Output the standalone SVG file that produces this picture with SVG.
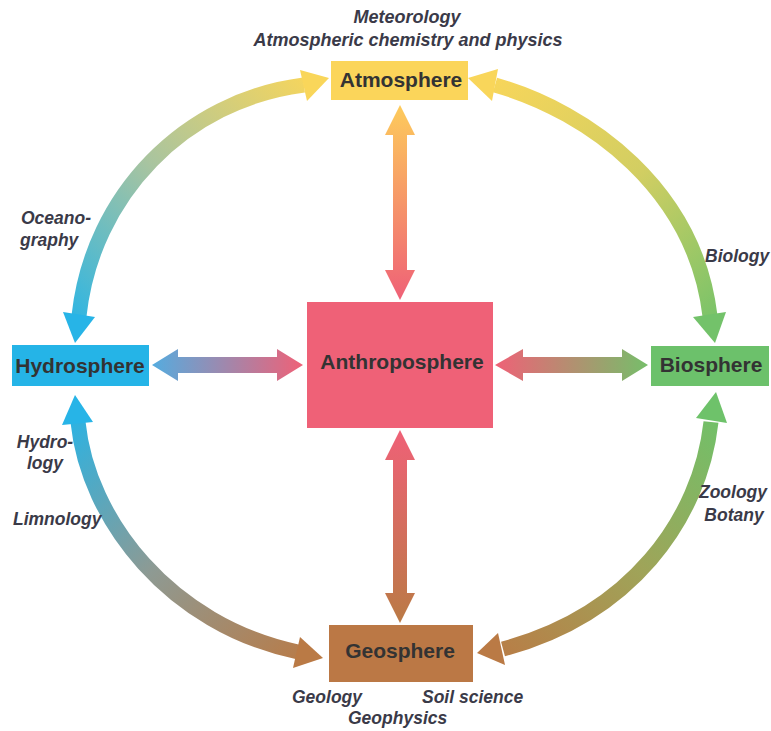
<svg xmlns="http://www.w3.org/2000/svg" width="771" height="731" viewBox="0 0 771 731">
<style>
.node{font-family:"Liberation Sans",Arial,sans-serif;font-weight:bold;font-size:21px;fill:#333333;text-anchor:middle}
.lbl{font-family:"Liberation Sans",Arial,sans-serif;font-weight:bold;font-style:italic;font-size:17.5px;fill:#3a3a48}
.arc{fill:none;stroke-width:15}
</style>
<defs>
<linearGradient id="gTL" gradientUnits="userSpaceOnUse" x1="76" y1="340" x2="320" y2="80"><stop offset="0" stop-color="#26B4E7"/><stop offset="0.5" stop-color="#A8C4A0"/><stop offset="1" stop-color="#F9D65A"/></linearGradient>
<linearGradient id="gTR" gradientUnits="userSpaceOnUse" x1="480" y1="80" x2="715" y2="340"><stop offset="0" stop-color="#F9D65A"/><stop offset="0.5" stop-color="#D2CE62"/><stop offset="1" stop-color="#71C26A"/></linearGradient>
<linearGradient id="gBL" gradientUnits="userSpaceOnUse" x1="76" y1="400" x2="320" y2="655"><stop offset="0" stop-color="#26B4E7"/><stop offset="0.5" stop-color="#8E9A93"/><stop offset="1" stop-color="#BA7A45"/></linearGradient>
<linearGradient id="gBR" gradientUnits="userSpaceOnUse" x1="715" y1="400" x2="480" y2="655"><stop offset="0" stop-color="#6EC26A"/><stop offset="0.5" stop-color="#9FA459"/><stop offset="1" stop-color="#BA7A45"/></linearGradient>
<linearGradient id="gVT" gradientUnits="userSpaceOnUse" x1="0" y1="105" x2="0" y2="300"><stop offset="0" stop-color="#FDCB5B"/><stop offset="1" stop-color="#EF6177"/></linearGradient>
<linearGradient id="gVB" gradientUnits="userSpaceOnUse" x1="0" y1="430" x2="0" y2="623"><stop offset="0" stop-color="#EF6177"/><stop offset="1" stop-color="#BA7A45"/></linearGradient>
<linearGradient id="gHL" gradientUnits="userSpaceOnUse" x1="152" y1="0" x2="303" y2="0"><stop offset="0" stop-color="#55ACDF"/><stop offset="1" stop-color="#EF6177"/></linearGradient>
<linearGradient id="gHR" gradientUnits="userSpaceOnUse" x1="495" y1="0" x2="648" y2="0"><stop offset="0" stop-color="#EF6177"/><stop offset="1" stop-color="#76BE6A"/></linearGradient>
</defs>
<g id="connectors">
<path class="arc" stroke="url(#gTL)" d="M79 316 C92 195 185 100 304 85"/>
<polygon fill="#27B4E7" points="63,312 95,317 75,343"/>
<polygon fill="#F9D65A" points="300,70 307,101 329,78"/>
<path class="arc" stroke="url(#gTR)" d="M495 85 C590 112 695 190 710 316"/>
<polygon fill="#F9D65A" points="498,69 492,101 468,78"/>
<polygon fill="#73C26A" points="693,317 726,312 715,343"/>
<path class="arc" stroke="url(#gBL)" d="M78 422 C88 520 170 625 298 652"/>
<polygon fill="#27B4E7" points="62,425 93,422 75,395"/>
<polygon fill="#BA7A45" points="300,637 293,668 323,658"/>
<path class="arc" stroke="url(#gBR)" d="M711 422 C700 520 630 615 503 649"/>
<polygon fill="#6EC26A" points="696,418 727,423 716,392"/>
<polygon fill="#BA7A45" points="498,633 505,665 477,653"/>
<polygon fill="url(#gVT)" points="400,105 415,135 407,135 407,270 415,270 400,300 385,270 393,270 393,135 385,135"/>
<polygon fill="url(#gVB)" points="400,430 415,460 407,460 407,593 415,593 400,623 385,593 393,593 393,460 385,460"/>
<polygon fill="url(#gHL)" points="152,365 178,349 178,357 277,357 277,349 303,365 277,381 277,373 178,373 178,381"/>
<polygon fill="url(#gHR)" points="495,365 523,349 523,357 622,357 622,349 648,365 622,381 622,373 523,373 523,381"/>
</g>
<g id="atmosphere"><rect x="331" y="61" width="137" height="39" fill="#FBD55A"/><text class="node" x="401" y="87">Atmosphere</text></g>
<g id="hydrosphere"><rect x="12" y="345" width="137" height="41" fill="#25B4E7"/><text class="node" x="80" y="373">Hydrosphere</text></g>
<g id="biosphere"><rect x="651" y="346" width="118" height="40" fill="#6CC16B"/><text class="node" x="711" y="372">Biosphere</text></g>
<g id="anthroposphere"><rect x="307" y="302" width="186" height="126" fill="#EF6177"/><text class="node" x="402" y="369">Anthroposphere</text></g>
<g id="geosphere"><rect x="329" y="625" width="144" height="57" fill="#BB7845"/><text class="node" x="400" y="658">Geosphere</text></g>
<g id="labels">
<text class="lbl" x="407" y="23" text-anchor="middle" style="font-size:18px">Meteorology</text>
<text class="lbl" x="408" y="46" text-anchor="middle" style="font-size:18px">Atmospheric chemistry and physics</text>
<text class="lbl" x="21" y="224">Oceano-</text>
<text class="lbl" x="20" y="246">graphy</text>
<text class="lbl" x="705" y="262">Biology</text>
<text class="lbl" x="45" y="448" text-anchor="middle">Hydro-</text>
<text class="lbl" x="45" y="469" text-anchor="middle">logy</text>
<text class="lbl" x="13" y="525">Limnology</text>
<text class="lbl" x="733" y="498" text-anchor="middle">Zoology</text>
<text class="lbl" x="734" y="521" text-anchor="middle">Botany</text>
<text class="lbl" x="292" y="703">Geology</text>
<text class="lbl" x="422" y="703">Soil science</text>
<text class="lbl" x="348" y="724">Geophysics</text>
</g>
</svg>
